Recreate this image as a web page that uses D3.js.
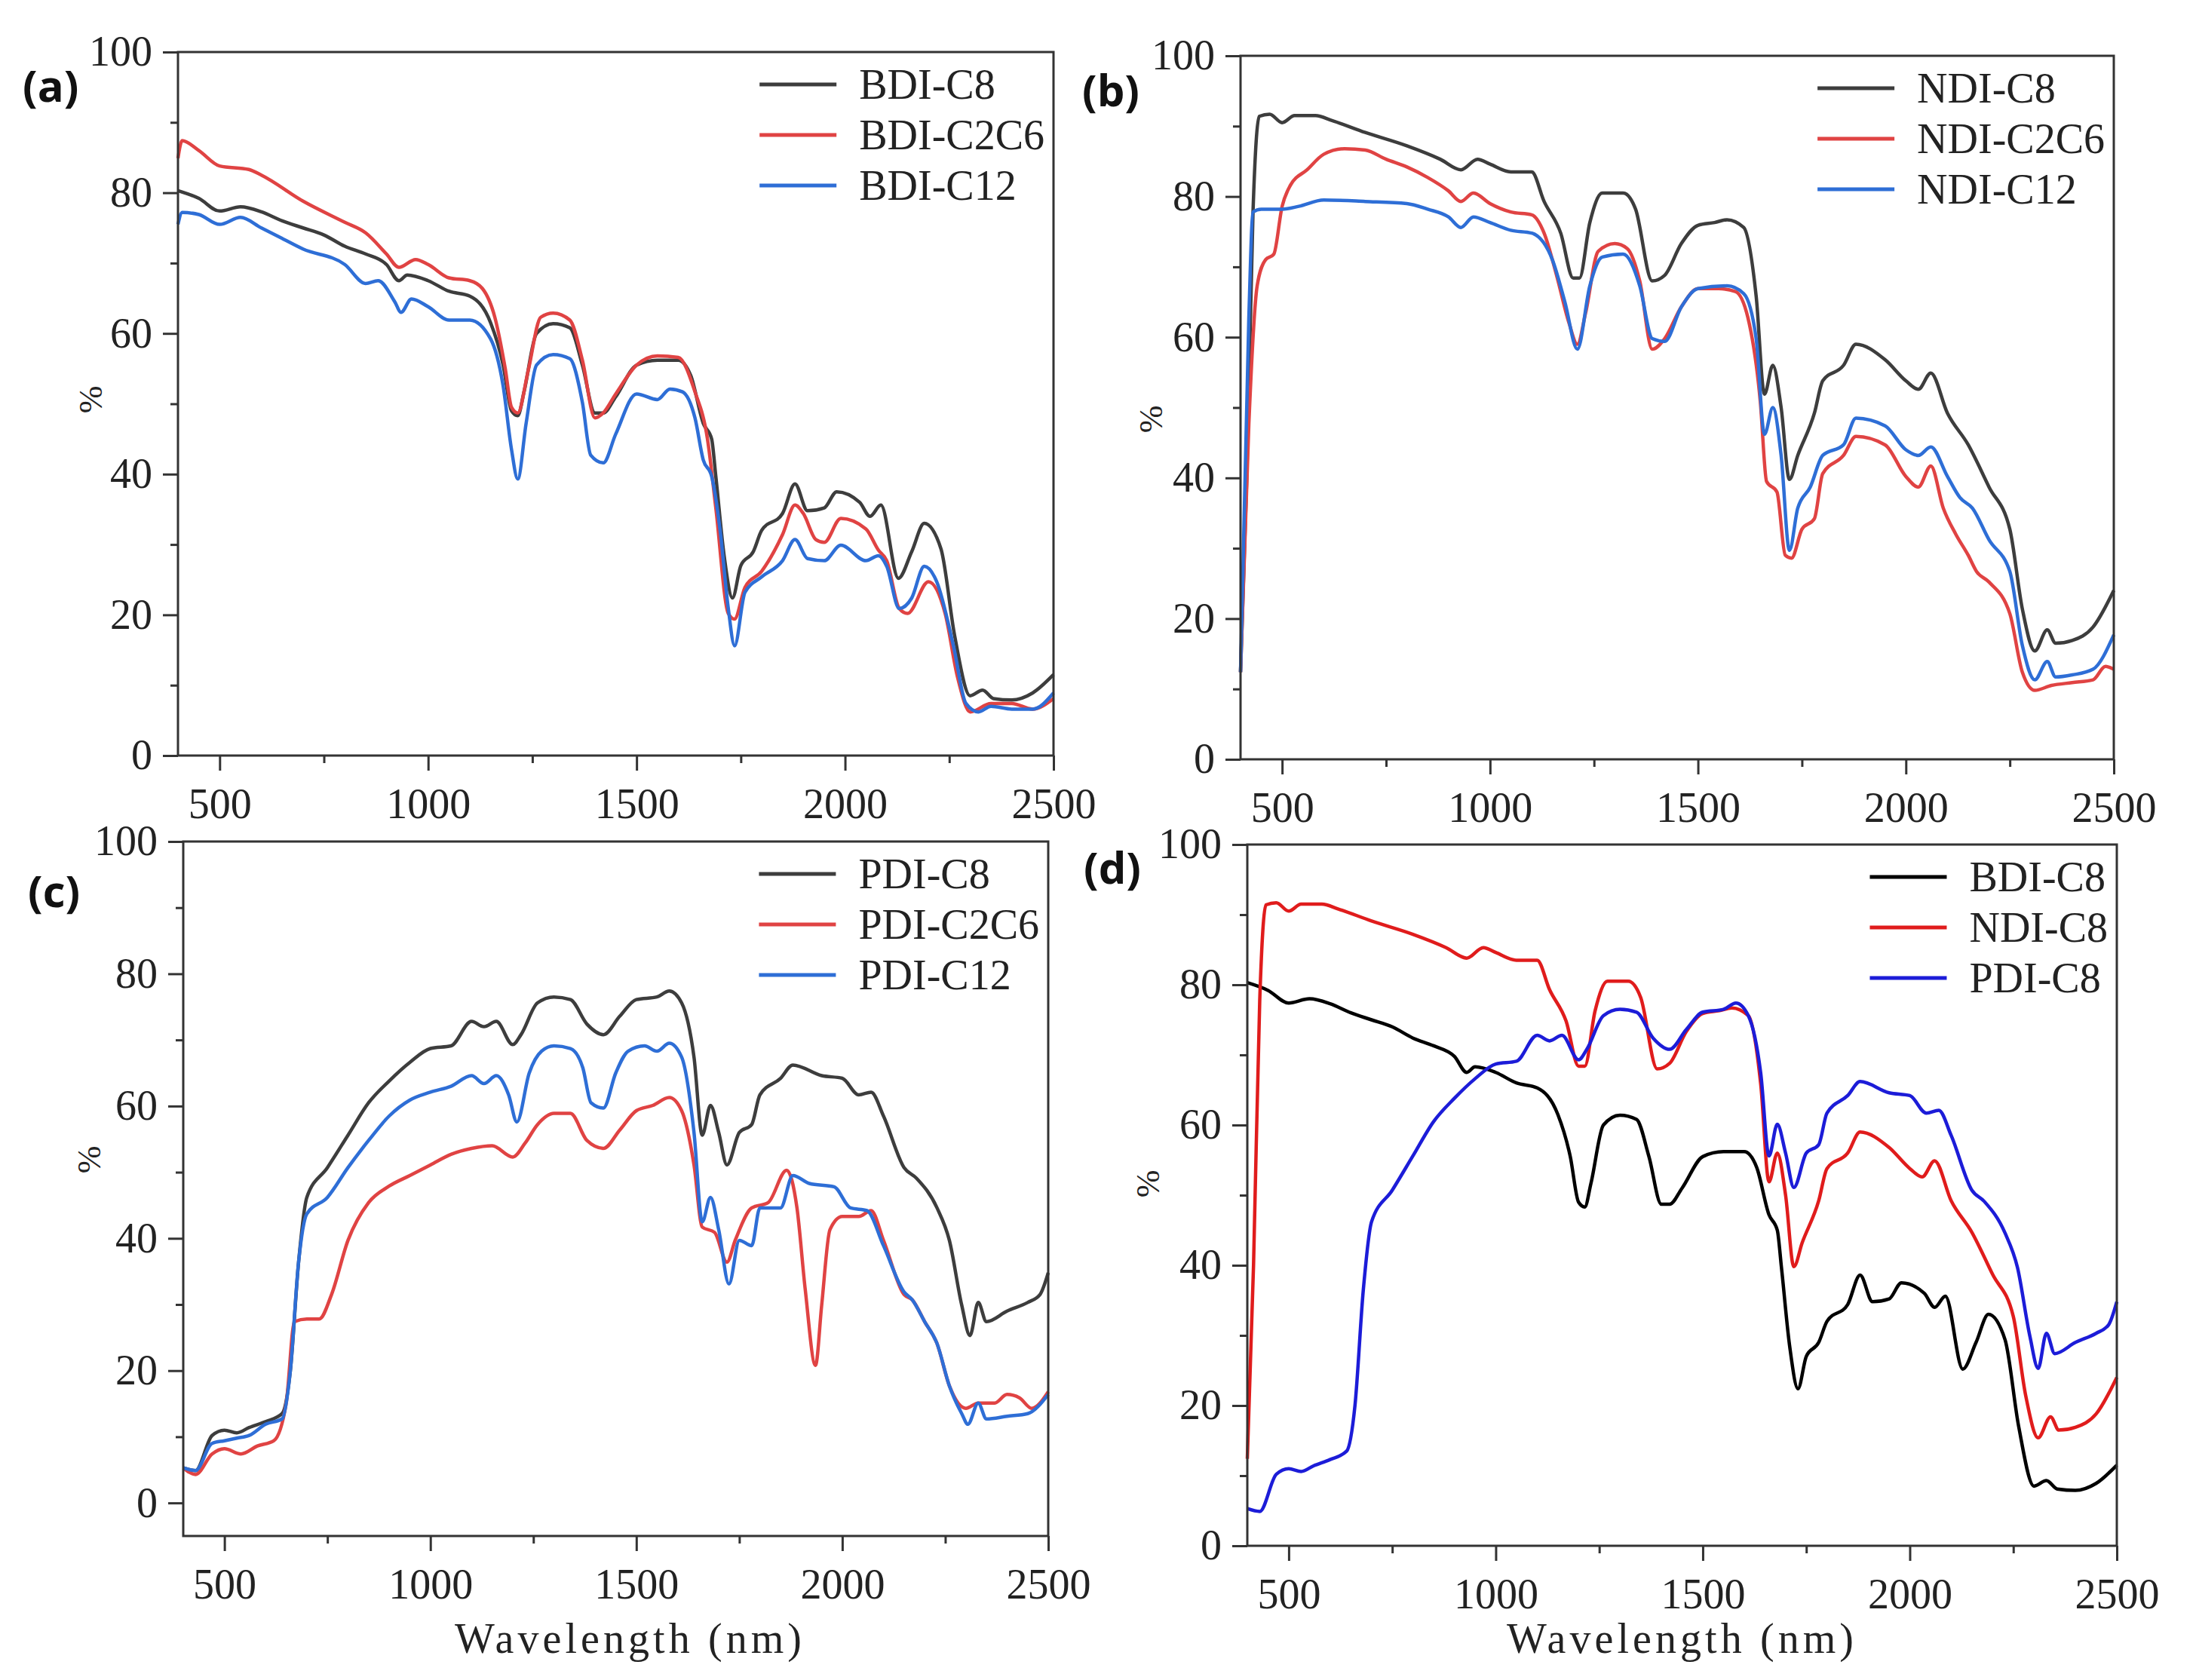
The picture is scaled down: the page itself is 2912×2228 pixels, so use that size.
<!DOCTYPE html>
<html>
<head>
<meta charset="utf-8">
<script src="https://cdn.jsdelivr.net/npm/d3@7"></script>
<style>
  body { margin: 0; background: #fff; }
  text { font-family: "Liberation Serif", serif; }
</style>
</head>
<body>
<svg id="chart"></svg>
<script>
// ---- data: [wavelength (nm), reflectance (%)] ----
const bdiC8 = [[400,80.3],[450,79.2],[500,77.4],[550,78],[600,77.3],[650,76],[700,75],[750,74],[800,72.4],[850,71.3],[900,69.8],[930,67.5],[950,68.3],[1000,67.5],[1050,66],[1100,65.3],[1150,61.5],[1180,55.5],[1200,49],[1215,48.3],[1230,51.7],[1260,60],[1300,61.4],[1340,60.8],[1370,55.5],[1400,48.7],[1420,48.7],[1450,51],[1500,55.5],[1550,56.2],[1600,56.2],[1630,54],[1660,47.2],[1680,45],[1690,39.7],[1710,28.4],[1730,22.4],[1750,27],[1780,29],[1800,32],[1850,34.4],[1880,38.6],[1910,34.8],[1950,35.2],[1980,37.5],[2035,36],[2060,34],[2086,35.6],[2128,25.2],[2160,29],[2190,33],[2230,29.4],[2263,17],[2300,8.5],[2330,9.3],[2356,8.1],[2400,7.9],[2450,8.9],[2500,11.5]];
const bdiC2C6 = [[400,84.9],[410,87.4],[450,86],[500,83.8],[570,83.3],[600,82.5],[700,78.8],[800,75.8],[850,74.3],[900,71.3],[930,69.4],[970,70.5],[1000,69.8],[1050,67.9],[1100,67.5],[1130,66.4],[1160,62.3],[1185,55],[1200,49.5],[1215,48.7],[1240,54.7],[1270,62.3],[1300,62.9],[1340,61.9],[1370,56.2],[1400,48],[1420,48.7],[1450,51.4],[1500,55.5],[1550,56.8],[1600,56.6],[1640,51.7],[1670,45],[1690,35.2],[1720,20.2],[1735,19.4],[1760,23.9],[1800,26.2],[1850,31.4],[1880,35.6],[1900,34.4],[1930,30.7],[1950,30.3],[1990,33.7],[2050,32.2],[2080,29.2],[2100,27.7],[2130,20.9],[2150,20.2],[2200,24.7],[2240,20.2],[2270,11.1],[2300,6.2],[2350,7.4],[2400,7.4],[2450,6.6],[2500,8.1]];
const bdiC12 = [[400,75.5],[410,77.2],[450,76.9],[500,75.5],[550,76.5],[600,75],[650,73.5],[700,72],[800,69.8],[850,67.1],[880,67.5],[920,64.5],[935,63],[960,64.9],[1000,63.8],[1050,61.9],[1100,61.9],[1150,59.2],[1180,52.5],[1200,43.5],[1215,39.3],[1235,47.2],[1260,55.5],[1300,57],[1340,56.4],[1370,50.2],[1390,42.7],[1420,41.6],[1450,45.7],[1500,51.4],[1550,50.6],[1580,52.1],[1610,51.7],[1640,48],[1660,42],[1680,39.7],[1700,32.2],[1720,20.9],[1735,15.6],[1760,23.2],[1800,25.4],[1850,27.7],[1880,30.7],[1910,28],[1950,27.7],[1990,29.9],[2050,27.7],[2080,28.4],[2100,26.9],[2130,20.9],[2160,22.4],[2190,26.9],[2220,24.7],[2260,15.6],[2290,7.4],[2320,6.2],[2350,7],[2400,6.6],[2450,6.6],[2500,8.9]];

const ndiC8 = [[400,12.4],[415,40],[430,77.8],[445,91.4],[470,91.7],[500,90.5],[530,91.5],[580,91.5],[620,90.8],[700,89.1],[800,87.2],[880,85.3],[930,83.8],[970,85.3],[1000,84.6],[1050,83.5],[1100,83.5],[1130,79.3],[1170,74.8],[1200,68.4],[1215,68.4],[1240,76.3],[1270,80.5],[1320,80.5],[1350,78.2],[1390,68],[1420,68.8],[1460,73.3],[1500,75.9],[1540,76.3],[1570,76.7],[1610,75.6],[1640,65.8],[1660,51.9],[1680,56],[1700,50],[1720,39.8],[1740,43.2],[1780,49.2],[1800,53.8],[1850,56],[1880,59],[1950,56.8],[2000,53.8],[2030,52.6],[2060,54.9],[2100,49.2],[2150,44.7],[2200,38.7],[2250,32.7],[2280,21.4],[2310,15.4],[2340,18.4],[2360,16.5],[2400,16.9],[2450,18.8],[2500,24]];
const ndiC2C6 = [[400,12.4],[420,47.7],[440,67.3],[460,71],[480,71.8],[500,78.6],[520,81.6],[560,83.8],[600,86],[650,86.8],[700,86.6],[750,85.3],[800,84.2],[850,82.7],[900,80.8],[930,79.3],[960,80.5],[1000,79],[1050,77.8],[1100,77.4],[1130,74.8],[1160,68.8],[1190,62],[1210,59],[1230,63.5],[1260,72.2],[1300,73.3],[1330,72.6],[1360,68],[1390,58.3],[1420,59.8],[1460,64.3],[1500,66.9],[1550,66.9],[1590,66.5],[1620,62.8],[1650,50.8],[1665,39.5],[1690,38],[1710,29],[1725,28.6],[1750,32.7],[1780,34.2],[1800,40.6],[1850,43.2],[1880,45.9],[1950,44.7],[2000,40.2],[2030,38.7],[2060,41.7],[2090,35.7],[2120,32],[2150,29],[2170,26.7],[2200,25.2],[2250,20.7],[2280,12.4],[2310,9.8],[2350,10.5],[2400,10.9],[2450,11.3],[2480,13.2],[2500,12.8]];
const ndiC12 = [[400,12.4],[420,62.8],[430,77.8],[450,78.2],[500,78.2],[540,78.6],[600,79.5],[700,79.3],[800,79],[850,78.2],[900,77.1],[930,75.6],[960,77.1],[1000,76.3],[1050,75.2],[1100,74.8],[1150,71],[1180,65],[1210,58.3],[1240,67.3],[1270,71.4],[1320,71.8],[1360,67.3],[1390,59.8],[1420,59.4],[1460,64.3],[1500,66.9],[1570,67.3],[1610,66.2],[1640,59.8],[1660,46.2],[1680,50],[1700,43.2],[1720,29.7],[1740,35.7],[1770,38.7],[1800,43.2],[1850,44.7],[1880,48.5],[1950,47.4],[2000,44],[2030,43.2],[2060,44.4],[2100,40.2],[2130,37.2],[2160,35.7],[2200,31.2],[2250,26.7],[2280,16.2],[2310,11.3],[2340,13.9],[2360,11.7],[2400,12],[2450,12.8],[2500,17.7]];

const pdiC8 = [[400,5.3],[430,4.9],[470,10.2],[500,11],[530,10.6],[560,11.4],[600,12.3],[640,13.5],[660,20],[680,36.4],[700,46.2],[750,50.7],[800,55.6],[850,60.5],[900,63.8],[950,66.6],[1000,68.7],[1050,69.1],[1100,72.8],[1130,72],[1160,72.8],[1200,69.3],[1220,70.8],[1260,75.6],[1300,76.5],[1340,76.1],[1380,72.4],[1420,70.8],[1460,73.6],[1500,76.1],[1550,76.5],[1580,77.4],[1610,75.6],[1640,67.4],[1660,55.6],[1680,60.1],[1700,56],[1720,51.1],[1750,56],[1780,57.2],[1800,61.7],[1850,64.2],[1880,66.2],[1950,64.6],[2000,64.2],[2040,61.7],[2070,62.1],[2100,58.5],[2150,50.7],[2180,49.1],[2230,44.6],[2260,39.7],[2290,29.9],[2310,25.3],[2330,30.3],[2350,27.4],[2400,29],[2450,30.3],[2480,31.5],[2500,34.8]];
const pdiC2C6 = [[400,5.3],[430,4.3],[470,7.4],[500,8.2],[540,7.4],[580,8.6],[620,9.4],[650,15.1],[670,27.4],[700,27.8],[730,27.8],[760,31.5],[800,39.7],[850,45.4],[900,47.9],[950,49.5],[1000,51.1],[1050,52.7],[1100,53.6],[1150,54],[1200,52.3],[1230,54.4],[1260,57.2],[1300,58.9],[1340,58.9],[1380,54.8],[1420,53.6],[1460,56.4],[1500,59.3],[1540,60.1],[1580,61.3],[1610,59.3],[1640,51.1],[1660,41.7],[1690,40.9],[1720,36.4],[1740,39.7],[1780,44.6],[1820,45.4],[1865,50.3],[1890,44.6],[1910,32.3],[1935,20.8],[1950,29.9],[1970,41.3],[2000,43.3],[2040,43.3],[2070,44.2],[2100,39.7],[2150,31.5],[2170,30.7],[2200,27.4],[2230,24.1],[2260,17.7],[2300,14.3],[2330,15.1],[2370,15.1],[2400,16.4],[2430,15.9],[2460,14.3],[2500,16.8]];
const pdiC12 = [[400,5.3],[430,4.9],[470,9],[500,9.4],[530,9.8],[560,10.2],[600,11.9],[640,12.7],[660,20],[680,36.4],[700,43.7],[750,46.2],[800,50.7],[850,54.8],[900,58.5],[950,60.9],[1000,62.1],[1050,63],[1100,64.6],[1130,63.4],[1160,64.6],[1190,61.7],[1210,57.6],[1240,65],[1270,68.3],[1300,69.1],[1340,68.7],[1370,65.8],[1390,60.5],[1420,59.7],[1450,65],[1480,68.3],[1520,69.1],[1550,68.3],[1580,69.5],[1610,67.4],[1640,56],[1660,42.5],[1680,46.2],[1700,41.3],[1725,33.1],[1750,39.7],[1780,38.9],[1800,44.6],[1850,44.6],[1880,49.5],[1920,48.3],[1980,47.8],[2020,44.6],[2060,44.2],[2100,38.9],[2150,31.9],[2170,30.7],[2200,27.4],[2230,24.1],[2260,17.7],[2290,13.5],[2305,11.9],[2330,15.1],[2350,12.7],[2400,13.1],[2450,13.5],[2500,16.4]];

const xMajor = [500, 1000, 1500, 2000, 2500];
const xMinor = [750, 1250, 1750, 2250];
const yMajor = [0, 20, 40, 60, 80, 100];
const yMinor = [10, 30, 50, 70, 90];

const soft = ['#3d3d3d', '#e04343', '#2e6ed6'];
const strong = ['#000000', '#e01c1c', '#1c1cd8'];

const panels = [
  { tag: '(a)', left: 236, right: 1397, top: 69, bottom: 1002, yDomain: [0, 100],
    tagX: 30, tagY: 135, pctX: 120, pctY: 530, xTitle: false,
    series: [bdiC8, bdiC2C6, bdiC12], names: ['BDI-C8', 'BDI-C2C6', 'BDI-C12'], colors: soft },
  { tag: '(b)', left: 1645, right: 2803, top: 74, bottom: 1007, yDomain: [0, 100],
    tagX: 1435, tagY: 141, pctX: 1526, pctY: 556, xTitle: false,
    series: [ndiC8, ndiC2C6, ndiC12], names: ['NDI-C8', 'NDI-C2C6', 'NDI-C12'], colors: soft },
  { tag: '(c)', left: 243, right: 1390, top: 1116, bottom: 2037, yDomain: [-5, 100],
    tagX: 37, tagY: 1203, pctX: 118, pctY: 1538, xTitle: true, titleX: 833,
    series: [pdiC8, pdiC2C6, pdiC12], names: ['PDI-C8', 'PDI-C2C6', 'PDI-C12'], colors: soft },
  { tag: '(d)', left: 1654, right: 2807, top: 1120, bottom: 2050, yDomain: [0, 100],
    tagX: 1437, tagY: 1172, pctX: 1522, pctY: 1570, xTitle: true, titleX: 2228,
    series: [bdiC8, ndiC8, pdiC8], names: ['BDI-C8', 'NDI-C8', 'PDI-C8'], colors: strong }
];

const svg = d3.select('#chart').attr('width', 2912).attr('height', 2228);
svg.append('rect').attr('width', 2912).attr('height', 2228).attr('fill', '#fff');

panels.forEach(p => drawPanel(p));

function drawPanel(p) {
  const g = svg.append('g');
  const x = d3.scaleLinear().domain([400, 2500]).range([p.left, p.right]);
  const y = d3.scaleLinear().domain(p.yDomain).range([p.bottom, p.top]);

  // curves
  const line = d3.line()
    .x(d => x(d[0]))
    .y(d => y(d[1]))
    .curve(d3.curveMonotoneX);

  p.series.forEach((s, i) => {
    g.append('path')
      .datum(s)
      .attr('d', line)
      .attr('fill', 'none')
      .attr('stroke', p.colors[i])
      .attr('stroke-width', 4.5)
      .attr('stroke-linejoin', 'round');
  });

  // frame
  g.append('rect')
    .attr('x', p.left).attr('y', p.top)
    .attr('width', p.right - p.left).attr('height', p.bottom - p.top)
    .attr('fill', 'none').attr('stroke', '#333').attr('stroke-width', 3);

  // axes
  const styleAxis = a => {
    a.select('.domain').remove();
    a.selectAll('line').attr('stroke', '#333').attr('stroke-width', 3);
    a.selectAll('text').attr('fill', '#222').style('font-size', '56px')
      .style('font-family', '"Liberation Serif", serif');
  };

  g.append('g').attr('transform', `translate(0,${p.bottom})`)
    .call(d3.axisBottom(x).tickValues(xMajor).tickFormat(d3.format('d'))
      .tickSize(20).tickSizeOuter(0).tickPadding(23))
    .call(styleAxis);
  g.append('g').attr('transform', `translate(0,${p.bottom})`)
    .call(d3.axisBottom(x).tickValues(xMinor).tickSize(10).tickSizeOuter(0).tickFormat(''))
    .call(styleAxis);
  g.append('g').attr('transform', `translate(${p.left},0)`)
    .call(d3.axisLeft(y).tickValues(yMajor).tickFormat(d3.format('d'))
      .tickSize(20).tickSizeOuter(0).tickPadding(14))
    .call(styleAxis);
  g.append('g').attr('transform', `translate(${p.left},0)`)
    .call(d3.axisLeft(y).tickValues(yMinor).tickSize(10).tickSizeOuter(0).tickFormat(''))
    .call(styleAxis);

  // legend
  const leg = g.append('g');
  const texts = p.names.map((n, i) => leg.append('text')
    .attr('y', p.top + 43 + 67 * i)
    .attr('dy', '0.34em')
    .attr('fill', '#222')
    .style('font-size', '56px')
    .text(n));
  const maxW = d3.max(texts, t => t.node().getComputedTextLength());
  const tx = p.right - 12 - maxW;
  texts.forEach((t, i) => {
    t.attr('x', tx);
    leg.append('line')
      .attr('x1', tx - 132).attr('x2', tx - 30)
      .attr('y1', p.top + 43 + 67 * i).attr('y2', p.top + 43 + 67 * i)
      .attr('stroke', p.colors[i]).attr('stroke-width', 5);
  });

  // panel tag
  g.append('text')
    .attr('x', p.tagX).attr('y', p.tagY)
    .attr('fill', '#111')
    .style('font-family', '"Open Sans", sans-serif')
    .style('font-weight', 700)
    .style('font-size', '58px')
    .text(p.tag);

  // y title
  g.append('text')
    .attr('transform', `translate(${p.pctX},${p.pctY}) rotate(-90)`)
    .attr('text-anchor', 'middle')
    .attr('dy', '0.35em')
    .attr('fill', '#222')
    .style('font-size', '44px')
    .text('%');

  // x title
  if (p.xTitle) {
    g.append('text')
      .attr('x', p.titleX).attr('y', 2172)
      .attr('text-anchor', 'middle')
      .attr('dy', '0.35em')
      .attr('fill', '#222')
      .attr('textLength', 460)
      .attr('lengthAdjust', 'spacing')
      .style('font-size', '56px')
      .text('Wavelength (nm)');
  }
}
</script>
</body>
</html>
